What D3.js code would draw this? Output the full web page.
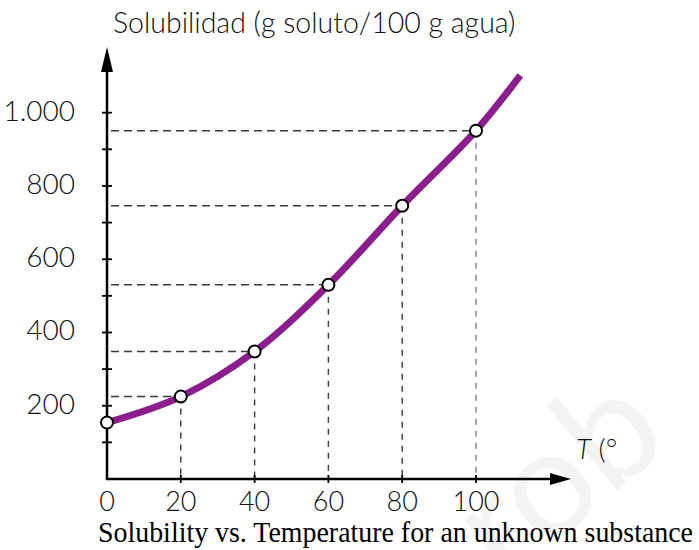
<!DOCTYPE html>
<html>
<head>
<meta charset="utf-8">
<script src="https://cdn.jsdelivr.net/npm/d3@7/dist/d3.min.js"></script>
<style>
  html, body { margin: 0; padding: 0; background: #fff; }
  svg { display: block; }
</style>
</head>
<body>
<svg id="chart" width="699" height="550"></svg>
<script>
// Solubility readings (g solute per 100 g water) at each temperature
const temps = [0, 20, 40, 60, 80, 100];
const solubility = [154, 225, 348, 530, 746, 951];
// The fitted curve continues a little past the last measurement
const curveTemps = [0, 20, 40, 60, 80, 100, 112];
const curveSolubility = [154, 225, 348, 530, 746, 951, 1102];
const xTicks = [0, 20, 40, 60, 80, 100];
const yMinorTicks = [100, 200, 300, 400, 500, 600, 700, 800, 900, 1000];
const yLabelTicks = [200, 400, 600, 800, 1000];
const yLabelText = ["200", "400", "600", "800", "1.000"];

const svg = d3.select("#chart");
const x = d3.scaleLinear().domain([0, 100]).range([107, 476]);
const y = d3.scaleLinear().domain([0, 1000]).range([479, 112.7]);

const sans = "Lato, 'Open Sans', sans-serif";

// faint watermark in the background
svg.append("text")
  .attr("transform", "translate(505,585) rotate(-40)")
  .attr("font-family", sans)
  .attr("font-weight", 400)
  .attr("font-size", 150)
  .attr("fill", "#f4f4f4")
  .text("rob");

// dashed guide lines from each reading to both axes
const guides = svg.append("g");
temps.forEach((t, i) => {
  guides.append("line")
    .attr("x1", x(0) + 4).attr("x2", x(t))
    .attr("y1", y(solubility[i])).attr("y2", y(solubility[i]))
    .attr("stroke", "#3a3a3a").attr("stroke-width", 1.5)
    .attr("stroke-dasharray", "8,5");
  if (t > 0) {
    guides.append("line")
      .attr("x1", x(t)).attr("x2", x(t))
      .attr("y1", y(solubility[i])).attr("y2", y(0))
      .attr("stroke", t === 100 ? "#8a8a8a" : "#444").attr("stroke-width", 1.5)
      .attr("stroke-dasharray", "6,6");
  }
});

// axes with arrowheads
const axisG = svg.append("g");
axisG.append("line").attr("x1", x(0)).attr("x2", x(0))
  .attr("y1", y(0) + 1).attr("y2", 64)
  .attr("stroke", "#000").attr("stroke-width", 2.5);
axisG.append("path")
  .attr("d", `M${x(0)},47 L${x(0) - 6},72 L${x(0) + 6},72 Z`)
  .attr("fill", "#000");
axisG.append("line").attr("x1", x(0) - 1).attr("x2", 556)
  .attr("y1", y(0)).attr("y2", y(0))
  .attr("stroke", "#000").attr("stroke-width", 2.5);
axisG.append("path")
  .attr("d", `M571,${y(0)} L550,${y(0) - 6} L550,${y(0) + 6} Z`)
  .attr("fill", "#000");

// tick marks crossing the axes
axisG.selectAll(".yt").data(yMinorTicks).join("line")
  .attr("x1", x(0) - 5).attr("x2", x(0) + 5)
  .attr("y1", d => y(d)).attr("y2", d => y(d))
  .attr("stroke", "#000").attr("stroke-width", 1.8);
axisG.selectAll(".xt").data(xTicks.filter(d => d > 0)).join("line")
  .attr("x1", d => x(d)).attr("x2", d => x(d))
  .attr("y1", y(0) - 4).attr("y2", y(0) + 4)
  .attr("stroke", "#000").attr("stroke-width", 1.8);

// tick labels
svg.selectAll(".ylab").data(yLabelTicks).join("text")
  .attr("x", 75).attr("y", d => y(d) + 8)
  .attr("text-anchor", "end")
  .attr("font-family", sans).attr("font-weight", 300)
  .attr("font-size", 28).attr("fill", "#111")
  .text((d, i) => yLabelText[i]);
svg.selectAll(".xlab").data(xTicks).join("text")
  .attr("x", d => x(d)).attr("y", 511)
  .attr("text-anchor", "middle")
  .attr("font-family", sans).attr("font-weight", 300)
  .attr("font-size", 27).attr("fill", "#111")
  .text(d => d);

// axis titles
svg.append("text")
  .attr("x", 113).attr("y", 33)
  .attr("font-family", sans).attr("font-weight", 300)
  .attr("font-size", 28.5).attr("fill", "#111")
  .text("Solubilidad (g soluto/100 g agua)");
const tLab = svg.append("text")
  .attr("x", 576).attr("y", 459)
  .attr("font-family", sans).attr("font-weight", 300)
  .attr("font-size", 28).attr("fill", "#111");
tLab.append("tspan").attr("font-style", "italic").text("T");
tLab.append("tspan").text(" (°");

// solubility curve
const line = d3.line()
  .x((d, i) => x(curveTemps[i]))
  .y(d => y(d))
  .curve(d3.curveCatmullRom.alpha(0.5));
svg.append("path")
  .datum(curveSolubility)
  .attr("d", line)
  .attr("fill", "none")
  .attr("stroke", "#8b1d8d")
  .attr("stroke-width", 7)
  .attr("stroke-linecap", "butt");

// measurement markers
svg.selectAll(".pt").data(solubility).join("circle")
  .attr("cx", (d, i) => x(temps[i]))
  .attr("cy", d => y(d))
  .attr("r", 6)
  .attr("fill", "#fff")
  .attr("stroke", "#000")
  .attr("stroke-width", 2);

// caption
svg.append("text")
  .attr("x", 98).attr("y", 542)
  .attr("font-family", "'Liberation Serif', 'Times New Roman', serif")
  .attr("font-size", 29)
  .attr("textLength", 595)
  .attr("lengthAdjust", "spacingAndGlyphs")
  .attr("fill", "#000")
  .text("Solubility vs. Temperature for an unknown substance");
</script>
</body>
</html>
